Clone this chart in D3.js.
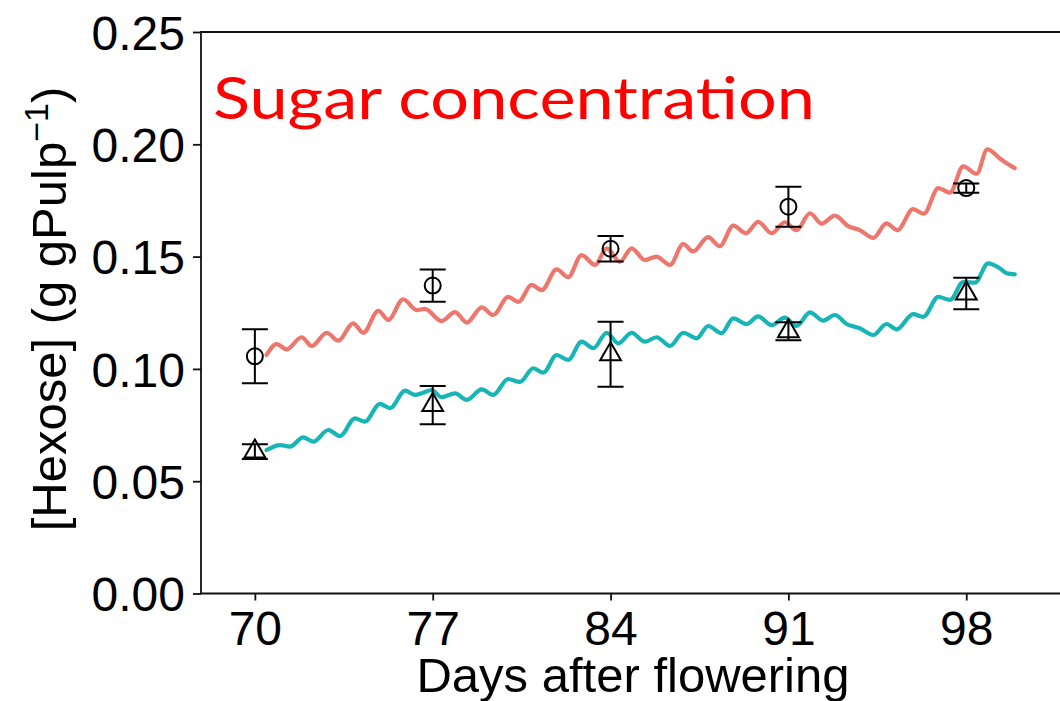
<!DOCTYPE html>
<html>
<head>
<meta charset="utf-8">
<script src="https://cdn.jsdelivr.net/npm/d3@7"></script>
<style>
  html, body { margin: 0; padding: 0; background: #fff; }
  svg { display: block; }
</style>
</head>
<body>
<svg id="chart" width="1060" height="701"></svg>
<script>
// Sampling days and observed means (± SE)
const obsDays = [70, 77, 84, 91, 98];
const circleMean = [0.1056, 0.1371, 0.1535, 0.1722, 0.1805];
const circleSE   = [0.0120, 0.0072, 0.0057, 0.0089, 0.0021];
const triangleMean = [0.0632, 0.0839, 0.1065, 0.1168, 0.1336];
const triangleSE   = [0.0033, 0.0085, 0.0145, 0.0040, 0.0070];

// Simulated hexose concentration (daily oscillation)
const redDays = [70.46, 70.86, 71.25, 71.84, 72.24, 72.83, 73.28, 73.87, 74.27, 74.86, 75.25, 75.84,
  76.37, 76.69, 77.35, 77.88, 78.34, 78.93, 79.38, 79.97, 80.37, 80.89, 81.29, 81.88, 82.33, 82.86,
  83.39, 83.85, 84.37, 84.83, 85.35, 85.81, 86.34, 86.86, 87.25, 87.84, 88.30, 88.83, 89.33, 89.81,
  90.34, 90.86, 91.32, 91.85, 92.31, 92.83, 93.35, 93.81, 94.34, 94.86, 95.29, 95.91, 96.33, 96.90,
  97.36, 97.88, 98.41, 98.83, 99.32, 99.65, 99.91];
const redConc = [0.1062, 0.1110, 0.1087, 0.1141, 0.1102, 0.1161, 0.1126, 0.1203, 0.1161, 0.1259, 0.1218, 0.1310,
  0.1262, 0.1267, 0.1213, 0.1253, 0.1206, 0.1274, 0.1240, 0.1321, 0.1298, 0.1374, 0.1351, 0.1443, 0.1408, 0.1507,
  0.1463, 0.1537, 0.1477, 0.1537, 0.1485, 0.1500, 0.1463, 0.1556, 0.1523, 0.1587, 0.1546, 0.1638, 0.1604, 0.1655,
  0.1604, 0.1653, 0.1618, 0.1693, 0.1647, 0.1682, 0.1636, 0.1618, 0.1583, 0.1648, 0.1618, 0.1711, 0.1691, 0.1805,
  0.1785, 0.1902, 0.1869, 0.1978, 0.1937, 0.1911, 0.1894];

const tealDays = [70.46, 70.99, 71.38, 71.90, 72.30, 72.89, 73.35, 73.94, 74.33, 74.92, 75.32, 75.91,
  76.30, 76.63, 76.96, 77.35, 77.88, 78.34, 78.93, 79.38, 79.97, 80.43, 80.96, 81.35, 81.88, 82.33,
  82.86, 83.32, 83.85, 84.30, 84.83, 85.35, 85.81, 86.34, 86.86, 87.39, 87.84, 88.37, 88.83, 89.35,
  89.81, 90.34, 90.86, 91.32, 91.85, 92.37, 92.83, 93.29, 93.81, 94.34, 94.86, 95.26, 95.91, 96.31,
  96.90, 97.36, 97.88, 98.34, 98.86, 99.32, 99.59, 99.91];
const tealConc = [0.0639, 0.0661, 0.0654, 0.0695, 0.0676, 0.0728, 0.0701, 0.0780, 0.0765, 0.0844, 0.0825, 0.0903,
  0.0884, 0.0894, 0.0906, 0.0874, 0.0891, 0.0862, 0.0909, 0.0884, 0.0955, 0.0942, 0.1003, 0.0983, 0.1062, 0.1040,
  0.1121, 0.1092, 0.1161, 0.1114, 0.1161, 0.1121, 0.1141, 0.1102, 0.1161, 0.1136, 0.1191, 0.1159, 0.1225, 0.1200,
  0.1234, 0.1195, 0.1228, 0.1191, 0.1252, 0.1215, 0.1240, 0.1200, 0.1181, 0.1151, 0.1200, 0.1176, 0.1244, 0.1232,
  0.1321, 0.1307, 0.1386, 0.1384, 0.1470, 0.1448, 0.1426, 0.1421];

const xTicks = [70, 77, 84, 91, 98];
const yTicks = [0, 0.05, 0.10, 0.15, 0.20, 0.25];

const svg = d3.select("#chart");
const panelLeft = 201, panelRight = 1062, panelTop = 32, panelBottom = 593.5;

const x = d3.scaleLinear().domain([67.88, 101.69]).range([panelLeft, 1060]);
const y = d3.scaleLinear().domain([0, 0.25]).range([panelBottom, panelTop]);

const FONT = "'Liberation Sans', Arial, sans-serif";

// Panel frame (left, top, bottom edges)
svg.append("path")
  .attr("d", `M${panelRight},${panelTop}H${panelLeft}V${panelBottom}H${panelRight}`)
  .attr("fill", "none").attr("stroke", "#111").attr("stroke-width", 1.8);

// Axes
const yAxis = d3.axisLeft(y).tickValues(yTicks).tickFormat(d3.format(".2f"))
  .tickSize(8).tickPadding(8);
const gy = svg.append("g").attr("transform", `translate(${panelLeft},0)`).call(yAxis);
gy.select(".domain").remove();
gy.selectAll(".tick line").attr("stroke", "#111").attr("stroke-width", 1.8);
gy.selectAll(".tick text").attr("font-family", FONT).attr("font-size", 48).attr("fill", "#000")
  .attr("dy", "0.36em");

const xAxis = d3.axisBottom(x).tickValues(xTicks).tickFormat(d3.format("d"))
  .tickSize(7).tickPadding(10);
const gx = svg.append("g").attr("transform", `translate(0,${panelBottom})`).call(xAxis);
gx.select(".domain").remove();
gx.selectAll(".tick line").attr("stroke", "#111").attr("stroke-width", 1.8);
gx.selectAll(".tick text").attr("font-family", FONT).attr("font-size", 48).attr("fill", "#000");

// Axis titles
svg.append("text")
  .attr("x", 633).attr("y", 692)
  .attr("text-anchor", "middle")
  .attr("font-family", FONT).attr("font-size", 49).attr("fill", "#000")
  .text("Days after flowering");

const yl = svg.append("text")
  .attr("transform", "translate(66,309) rotate(-90)")
  .attr("text-anchor", "middle")
  .attr("font-family", FONT).attr("font-size", 49).attr("fill", "#000");
yl.append("tspan").text("[Hexose] (g gPulp");
yl.append("tspan").attr("font-size", 34).attr("dy", -18).text("\u22121");
yl.append("tspan").attr("dy", 18).text(")");

// Simulated curves
const line = d3.line().x(d => x(d[0])).y(d => y(d[1])).curve(d3.curveMonotoneX);
svg.append("path")
  .datum(redDays.map((d, i) => [d, redConc[i]]))
  .attr("d", line).attr("fill", "none")
  .attr("stroke", "#EE776D").attr("stroke-width", 4.2)
  .attr("stroke-linejoin", "round").attr("stroke-linecap", "round");
svg.append("path")
  .datum(tealDays.map((d, i) => [d, tealConc[i]]))
  .attr("d", line).attr("fill", "none")
  .attr("stroke", "#17B5B6").attr("stroke-width", 4.2)
  .attr("stroke-linejoin", "round").attr("stroke-linecap", "round");

// Observations with error bars
function drawObs(means, ses, shape) {
  const g = svg.append("g").attr("stroke", "#000").attr("fill", "none").attr("stroke-width", 2);
  obsDays.forEach((day, i) => {
    const cx = x(day), hi = y(means[i] + ses[i]), lo = y(means[i] - ses[i]), cy = y(means[i]);
    g.append("path").attr("d", `M${cx},${hi}V${lo}M${cx - 13},${hi}H${cx + 13}M${cx - 13},${lo}H${cx + 13}`);
    if (shape === "circle") {
      g.append("circle").attr("cx", cx).attr("cy", cy).attr("r", 8);
    } else {
      const r = 12, xc = r * Math.sqrt(3) / 2, yc = r / 2;
      g.append("path").attr("d", `M${cx},${cy - r}L${cx + xc},${cy + yc}L${cx - xc},${cy + yc}Z`);
    }
  });
}
drawObs(circleMean, circleSE, "circle");
drawObs(triangleMean, triangleSE, "triangle");

// Panel heading
svg.append("text")
  .attr("x", 213).attr("y", 119)
  .attr("font-family", "Lato, 'Open Sans', sans-serif").attr("font-size", 59)
  .attr("fill", "#FF0000")
  .attr("textLength", 602).attr("lengthAdjust", "spacingAndGlyphs")
  .text("Sugar concentration");
</script>
</body>
</html>
